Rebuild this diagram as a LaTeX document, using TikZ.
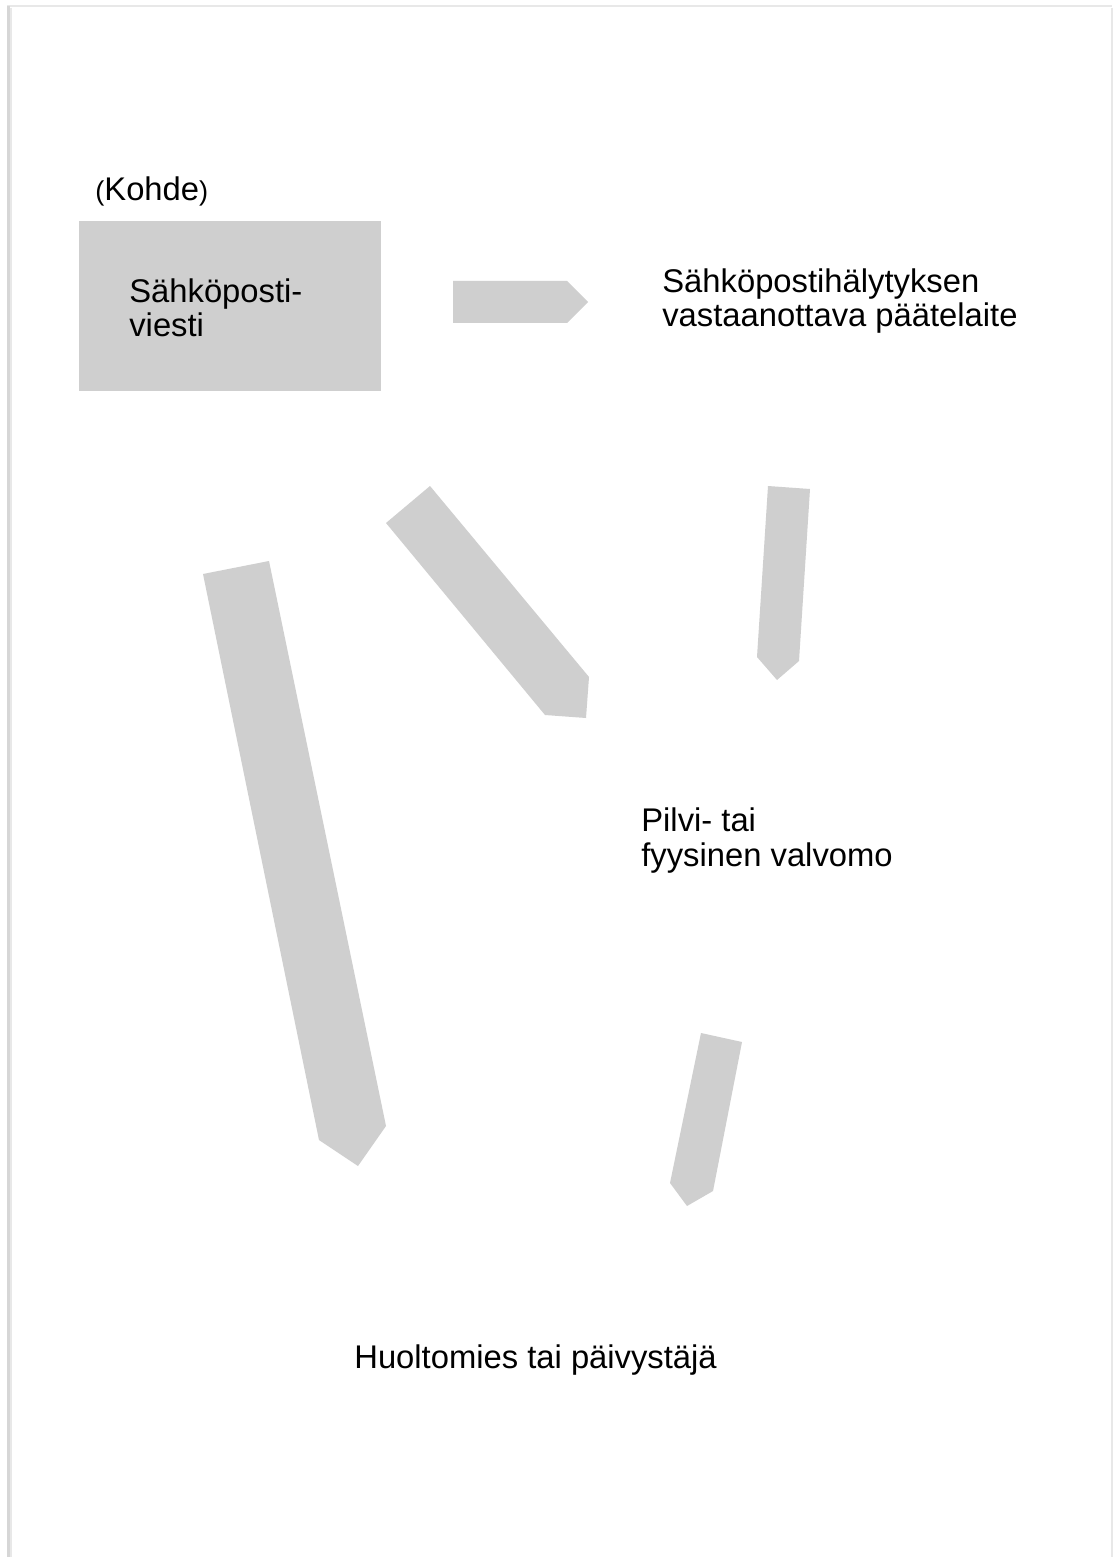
\documentclass[tikz,border=0pt]{standalone}
\usepackage{fontspec}
\setmainfont{Liberation Sans}
\begin{document}
\begin{tikzpicture}[x=0.02cm,y=-0.02cm,
  txt/.style={inner sep=0pt, anchor=base west, align=left,
    font=\fontsize{18.65}{19.6}\selectfont},
  panel/.style={fill=panelgray, draw=none, inner sep=0pt,
    minimum width=6.04cm, minimum height=3.4cm},
  blockarrow/.style={fill=panelgray, draw=none}]
\definecolor{panelgray}{RGB}{207,207,207}
\definecolor{edgegray}{RGB}{214,214,214}
\definecolor{edgelight}{RGB}{232,232,232}
\useasboundingbox (0,0) rectangle (1114,1557);
\fill[white] (0,0) rectangle (1114,1557);

% page edges
\draw[edgelight, line width=1pt] (7,6) -- (1112,6);
\draw[edgegray, line width=2pt] (8.5,6) -- (8.5,1557);
\draw[edgelight, line width=1.2pt] (11,8) -- (11,1557);
\draw[edgelight, line width=1.5pt] (1112,8) -- (1112,1557);

% source message (multi-line nodes are placed by their last baseline)
\node[txt] (kohde) at (95,201)
  {{\fontsize{15.5}{16}\selectfont(}Kohde{\fontsize{15.5}{16}\selectfont)}};
\node[panel] (mailbox) at (230,306) {};
\node[txt] (mailtext) at (129,337) {Sähköposti-\\viesti};

% receivers
\node[txt] (device) at (662,327) {Sähköpostihälytyksen\\vastaanottava päätelaite};
\node[txt] (control) at (641,866) {Pilvi- tai\\fyysinen valvomo};
\node[txt] (service) at (354,1368) {Huoltomies tai päivystäjä};

% block arrows
\fill[blockarrow] (453,281) -- (567,281) -- (588,302) -- (567,323) -- (453,323) -- cycle;
\fill[blockarrow] (386,523) -- (430,486) -- (589,677) -- (586,718) -- (545,715) -- cycle;
\fill[blockarrow] (768,486) -- (810,489) -- (799,661) -- (777,680) -- (757,657) -- cycle;
\fill[blockarrow] (203,574) -- (269,561) -- (386,1126) -- (358,1166) -- (319,1140) -- cycle;
\fill[blockarrow] (701,1033) -- (742,1042) -- (713,1191) -- (687,1206) -- (670,1183) -- cycle;
\end{tikzpicture}
\end{document}
